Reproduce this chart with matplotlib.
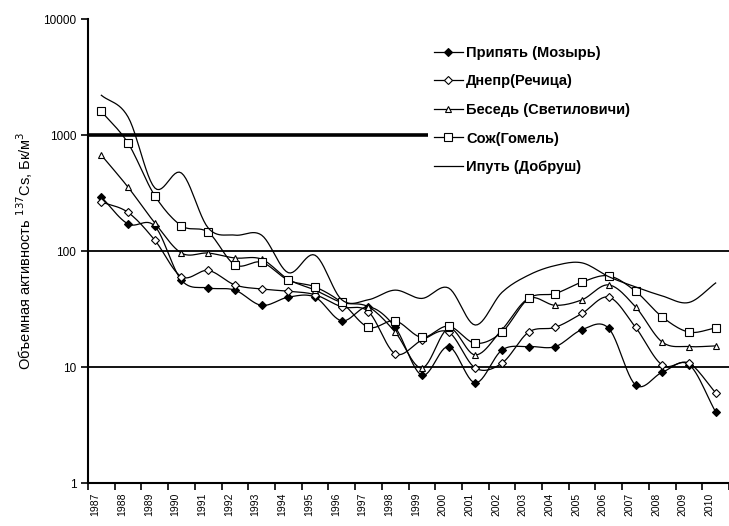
import matplotlib
matplotlib.use("Agg")
import matplotlib.pyplot as plt
import matplotlib.transforms as mtransforms
import numpy as np

# Years and activity values (Bq/m3)
years = [str(y) for y in range(1987, 2011)]

pripyat = [292, 171, 164, 56, 48, 46, 34, 40, 40, 25, 33, 22,
           8.5, 15, 7.3, 14, 15, 15, 21, 21.5, 7, 9, 10.5, 4.1]
dnepr = [265, 215, 124, 60, 68, 51, 47, 45, 42, 33, 30, 13,
         17, 20, 9.8, 10.8, 20, 22, 29, 40, 22, 10.4, 10.8, 6]
besed = [670, 355, 175, 96, 96, 87, 85, 57, 46, 36, 33, 20,
         9.8, 21.5, 12.7, 21, 39, 34, 38, 51, 33, 16.4, 15, 15.2]
sozh = [1600, 850, 300, 165, 145, 76, 80, 56, 49, 36, 22, 25,
        18, 22.5, 16, 20, 39, 43, 54, 61, 45, 27, 20, 21.7]
iput = [2200, 1430, 350, 470, 158, 137, 137, 65, 92, 38, 38, 46,
        39, 48, 23, 44, 62, 75, 79, 60, 49, 41, 36, 53]

labels = ["Припять (Мозырь)", "Днепр(Речица)", "Беседь (Светиловичи)",
          "Сож(Гомель)", "Ипуть (Добруш)"]


def smooth(x, y, n=12):
    # Catmull-Rom curve through the points in log space (like Excel smoothed lines)
    x = np.asarray(x, float)
    ly = np.log10(np.asarray(y, float))
    px = np.concatenate([[2 * x[0] - x[1]], x, [2 * x[-1] - x[-2]]])
    py = np.concatenate([[2 * ly[0] - ly[1]], ly, [2 * ly[-1] - ly[-2]]])
    t = np.linspace(0, 1, n, endpoint=False)
    xs, ys = [], []
    for i in range(1, len(px) - 2):
        for arr, out in ((px, xs), (py, ys)):
            p0, p1, p2, p3 = arr[i - 1], arr[i], arr[i + 1], arr[i + 2]
            out.extend(0.5 * (2 * p1 + (-p0 + p2) * t
                              + (2 * p0 - 5 * p1 + 4 * p2 - p3) * t ** 2
                              + (-p0 + 3 * p1 - 3 * p2 + p3) * t ** 3))
    xs.append(x[-1])
    ys.append(ly[-1])
    return np.array(xs), 10 ** np.array(ys)


plt.rcParams['font.family'] = ['Liberation Sans', 'DejaVu Sans']

fig = plt.figure(figsize=(7.29, 5.26), dpi=100)
ax = fig.add_axes([88 / 729, 43 / 526, 641 / 729, 464 / 526])

x = np.arange(len(years))
styles = [
    dict(marker='D', ms=4, mfc='black'),
    dict(marker='D', ms=4.5, mfc='white'),
    dict(marker='^', ms=5, mfc='white'),
    dict(marker='s', ms=5.5, mfc='white'),
    dict(marker=None),
]

for vals, lab, st in zip([pripyat, dnepr, besed, sozh, iput], labels, styles):
    sx, sy = smooth(x, vals)
    ax.plot(sx, sy, color='black', lw=0.9)
    if st['marker']:
        ax.plot(x, vals, ls='none', marker=st['marker'], ms=st['ms'],
                mfc=st['mfc'], mec='black', mew=0.8)
    # legend proxy
    ax.plot([], [], color='black', lw=0.9, marker=st['marker'],
            ms=st.get('ms', 0), mfc=st.get('mfc', 'white'), mec='black',
            mew=0.8, label=lab)

ax.set_yscale('log')
ax.set_ylim(1, 10000)
ax.set_xlim(-0.5, 23.24)

ax.axhline(10, color='black', lw=1.3, zorder=0)
ax.axhline(100, color='black', lw=1.3, zorder=0)
ax.hlines(1000, -0.5, 12.24, color='black', lw=2.6, zorder=0)

ax.set_yticks([1, 10, 100, 1000, 10000])
ax.set_yticklabels(['1', '10', '100', '1000', '10000'], fontsize=8.5)
ax.yaxis.set_minor_locator(matplotlib.ticker.NullLocator())

# tick marks between categories, labels at category centres
ax.set_xticks(np.arange(-0.5, 23.6, 1.0))
ax.set_xticklabels([])
ax.set_xticks(x, minor=True)
ax.set_xticklabels(years, minor=True, rotation=90, fontsize=7.5)
ax.tick_params(axis='x', which='minor', length=0, pad=7)
ax.tick_params(axis='x', which='major', length=5, width=1.2, direction='out')
ax.tick_params(axis='y', length=5, width=1.2, direction='out')
shift = mtransforms.ScaledTranslation(-6 / 100, 0, fig.dpi_scale_trans)
for lbl in ax.get_xticklabels(minor=True):
    lbl.set_transform(lbl.get_transform() + shift)

for s in ['top', 'right']:
    ax.spines[s].set_visible(False)
ax.spines['left'].set_linewidth(1.5)
ax.spines['bottom'].set_linewidth(1.5)

ax.set_ylabel('Объемная активность $^{137}$Cs, Бк/м$^3$', fontsize=10.5,
              labelpad=6)

ax.legend(loc='upper left', bbox_to_anchor=(428 / 729, 1 - 40 / 526),
          bbox_transform=fig.transFigure, frameon=False,
          prop={'weight': 'bold', 'size': 10.5}, handlelength=2.0,
          handletextpad=0.2, labelspacing=1.0, borderaxespad=0)

fig.savefig('out.png', dpi=100)
